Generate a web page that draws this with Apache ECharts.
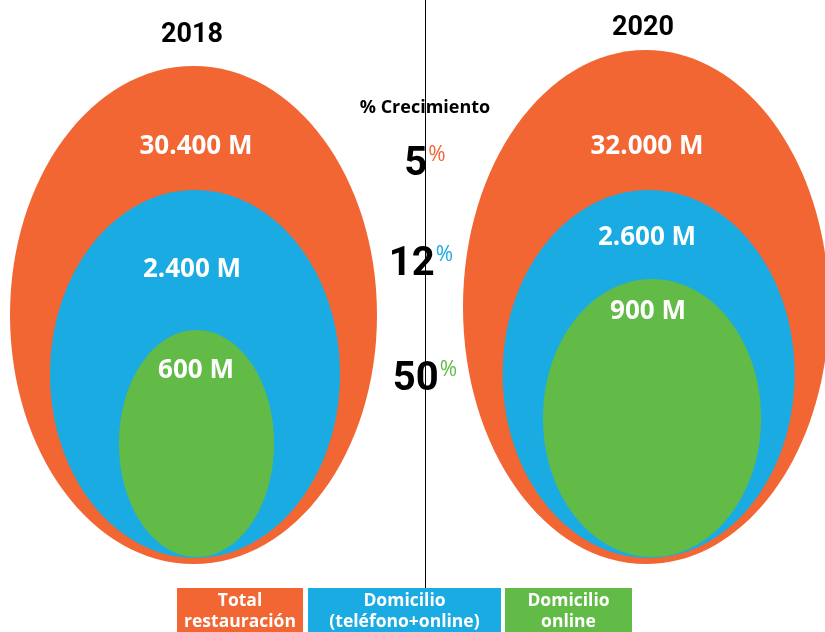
<!DOCTYPE html>
<html>
<head>
<meta charset="utf-8">
<script src="https://cdn.jsdelivr.net/npm/echarts@6/dist/echarts.min.js"></script>
<style>
  html, body { margin: 0; padding: 0; background: #ffffff; }
  #chart { width: 825px; height: 632px; }
</style>
</head>
<body>
<div id="chart"></div>
<script>
  // datos
  const years = ['2018', '2020']
  const categories = ['Total\nrestauración', 'Domicilio\n(teléfono+online)', 'Domicilio\nonline']
  const values2018 = [30400, 2400, 600]
  const values2020 = [32000, 2600, 900]
  const growth = [5, 12, 50]
  const growthTitle = '% Crecimiento'

  const colors = ['#F26633', '#1AABE2', '#63BB47']

  // layout (unidades de los ejes ocultos, 0..825 x 0..632)
  const ellipseLayout = [
    [
      { cx: 193.5, cy: 315, rx: 183.5, ry: 249, lx: 196, ly: 147 },
      { cx: 195, cy: 374, rx: 145, ry: 184, lx: 192, ly: 270 },
      { cx: 196.5, cy: 443.5, rx: 77.5, ry: 113.5, lx: 196, ly: 371 }
    ],
    [
      { cx: 646, cy: 307, rx: 183, ry: 257, lx: 647, ly: 147 },
      { cx: 648.6, cy: 374, rx: 146, ry: 184, lx: 647, ly: 238 },
      { cx: 652, cy: 418, rx: 109, ry: 139, lx: 648, ly: 312 }
    ]
  ]
  const titlePos = [[192, 35], [643, 28]]
  const growthPos = [[425, 165], [421, 265], [425, 380]]
  const legendBoxes = [[177, 303], [308, 501], [505, 632]]

  const fmt = v => String(v).replace(/\B(?=(\d{3})+(?!\d))/g, '.') + ' M'

  const chart = echarts.init(document.getElementById('chart'))

  function renderEllipse(params, api) {
    const yi = api.value(0)
    const ci = api.value(1)
    const L = ellipseLayout[yi][ci]
    const c = api.coord([L.cx, L.cy])
    const s = api.size([L.rx, L.ry])
    const lp = api.coord([L.lx, L.ly])
    return {
      type: 'group',
      children: [
        {
          type: 'ellipse',
          shape: { cx: c[0], cy: c[1], rx: s[0], ry: s[1] },
          style: { fill: colors[ci] }
        },
        {
          type: 'text',
          x: lp[0], y: lp[1], z2: 10,
          style: {
            text: fmt(api.value(2)),
            fill: '#ffffff',
            fontFamily: 'Open Sans',
            fontWeight: 'bold',
            fontSize: 26,
            align: 'center',
            verticalAlign: 'middle'
          }
        }
      ]
    }
  }

  function renderGrowth(params, api) {
    const i = api.value(0)
    const p = api.coord(growthPos[i])
    return {
      type: 'text',
      x: p[0], y: p[1], z2: 20,
      style: {
        text: '{n|' + api.value(1) + '}{p|%}',
        align: 'center',
        verticalAlign: 'middle',
        rich: {
          n: { fontFamily: 'Roboto', fontWeight: 'bold', fontSize: 40, fill: '#000000', lineHeight: 40 },
          p: { fontFamily: 'Open Sans', fontSize: 21, fill: colors[i], verticalAlign: 'top', lineHeight: 40, padding: [0, 0, 14, 1] }
        }
      }
    }
  }

  const ellipseData = []
  values2018.forEach((v, i) => ellipseData.push([0, i, v]))
  values2020.forEach((v, i) => ellipseData.push([1, i, v]))

  const graphics = []
  years.forEach((y, i) => {
    graphics.push({
      type: 'text', x: titlePos[i][0], y: titlePos[i][1],
      style: { text: y, fontFamily: 'Roboto', fontWeight: 'bold', fontSize: 27, fill: '#000000', align: 'center', verticalAlign: 'middle' }
    })
  })
  graphics.push({
    type: 'text', x: 425, y: 108, z: 5,
    style: { text: growthTitle, fontFamily: 'Open Sans', fontWeight: 'bold', fontSize: 18, fill: '#000000', align: 'center', verticalAlign: 'middle' }
  })
  graphics.push({
    type: 'line', z: 10,
    shape: { x1: 425.5, y1: 0, x2: 425.5, y2: 588 },
    style: { stroke: '#000000', lineWidth: 1 }
  })
  categories.forEach((c, i) => {
    const b = legendBoxes[i]
    graphics.push({
      type: 'rect', z: 11,
      shape: { x: b[0], y: 588, width: b[1] - b[0], height: 50 },
      style: { fill: colors[i] }
    })
    graphics.push({
      type: 'text', z: 12, x: (b[0] + b[1]) / 2, y: 612,
      style: { text: c, fontFamily: 'Open Sans', fontWeight: 'bold', fontSize: 17.5, lineHeight: 21, fill: '#ffffff', align: 'center', verticalAlign: 'middle' }
    })
  })

  const option = {
    backgroundColor: '#ffffff',
    animation: false,
    grid: { left: 0, right: 0, top: 0, bottom: 0 },
    xAxis: { type: 'value', min: 0, max: 825, show: false },
    yAxis: { type: 'value', min: 0, max: 632, inverse: true, show: false },
    graphic: graphics,
    series: [
      { type: 'custom', name: 'ellipses', renderItem: renderEllipse, data: ellipseData, clip: false, z: 2 },
      { type: 'custom', name: 'crecimiento', renderItem: renderGrowth, data: growth.map((g, i) => [i, g]), z: 20 }
    ]
  }

  chart.setOption(option)
</script>
</body>
</html>
